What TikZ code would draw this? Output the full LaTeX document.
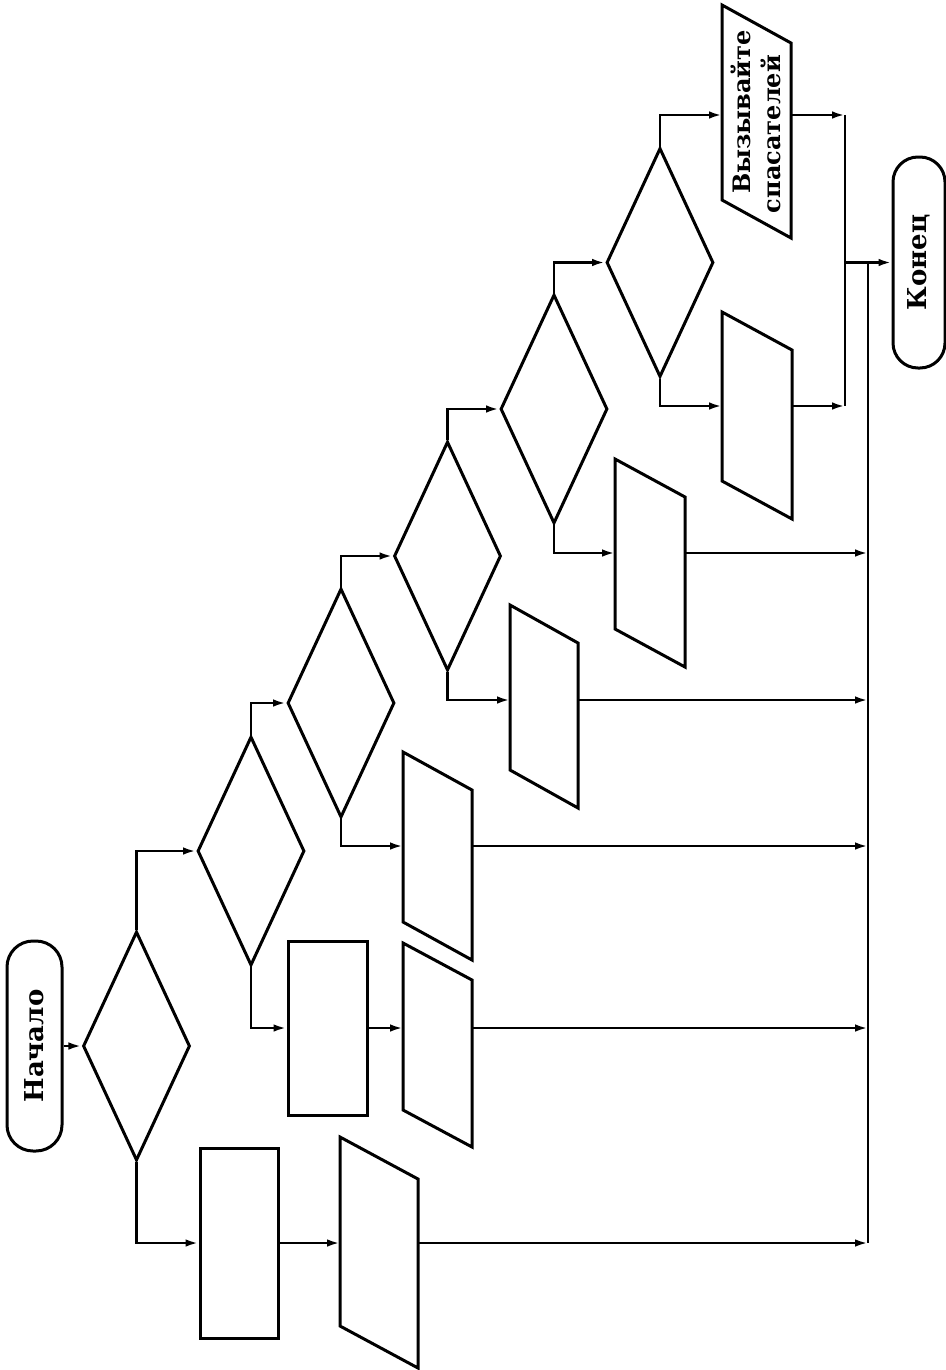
\documentclass[tikz,border=0pt]{standalone}
\usepackage{fontspec}
\setmainfont{DejaVu Serif}
\usetikzlibrary{shapes.geometric,arrows.meta}
\tikzset{
  shp/.style={line width=1.5pt, line join=miter},
  ln/.style={line width=1.3pt},
  arr/.style={line width=1.3pt, -{Latex[length=6.5pt,width=3.8pt]}},
  dia/.style={shp, draw, shape=diamond, inner sep=0pt, minimum width=53.5pt, minimum height=114.5pt},
  box/.style={shp, draw, rectangle, inner sep=0pt},
  pbox/.style={rectangle, draw=none, inner sep=0pt, outer sep=0pt},
  term/.style={shp, draw, rectangle, rotate=90, inner sep=0pt, font=\fontsize{13}{15}\selectfont\bfseries},
  lbl/.style={rotate=90, inner sep=0pt, font=\fontsize{12}{15}\selectfont\bfseries}
}
\newcommand\parashape[2]{\draw[shp] (#1.north west) -- ([yshift=-#2]#1.north east) -- (#1.south east) -- ([yshift=#2]#1.south west) -- cycle;}
\begin{document}
\begin{tikzpicture}[x=0.5pt,y=-0.5pt]
\useasboundingbox (0,0) rectangle (946,1370);
% terminals
\node[term, minimum width=105pt, minimum height=27.5pt, rounded corners=13pt] (S) at (34.5,1046) {Начало};
\node[term, minimum width=105.5pt, minimum height=26pt, rounded corners=12.5pt] (E) at (919,262.5) {Конец};
% decisions
\node[dia] (D1) at (136.5,1046) {};
\node[dia] (D2) at (251,851) {};
\node[dia] (D3) at (341,703) {};
\node[dia] (D4) at (447.5,556) {};
\node[dia] (D5) at (554,409) {};
\node[dia] (D6) at (660,262.5) {};
% processes
\node[box, minimum width=39pt, minimum height=95pt] (R1) at (239,1243) {};
\node[box, minimum width=39.5pt, minimum height=87pt] (R2) at (327.5,1028) {};
% input/output parallelograms
\node[pbox, minimum width=39pt, minimum height=115.5pt] (P1) at (379,1252.5) {};
\node[pbox, minimum width=34.5pt, minimum height=102pt] (P2) at (437.5,1045) {};
\node[pbox, minimum width=34.5pt, minimum height=104pt] (P3) at (437.5,856) {};
\node[pbox, minimum width=34pt, minimum height=101.5pt] (P4) at (544,706.5) {};
\node[pbox, minimum width=35pt, minimum height=104pt] (P5) at (650,563) {};
\node[pbox, minimum width=35pt, minimum height=103.5pt] (P6) at (757,415.5) {};
\node[pbox, minimum width=34.5pt, minimum height=116.5pt] (P7) at (756.5,121.5) {};
\parashape{P1}{21pt}
\parashape{P2}{18.5pt}
\parashape{P3}{19pt}
\parashape{P4}{19pt}
\parashape{P5}{19pt}
\parashape{P6}{19pt}
\parashape{P7}{19pt}
\node[lbl] (T7a) at (741,112) {Вызывайте};
\node[lbl] (T7b) at (771,134) {спасателей};
% helper coordinates
\coordinate (y3) at (0,846);
\coordinate (y4) at (0,700);
\coordinate (y5) at (0,553);
\coordinate (y6) at (0,406);
\coordinate (y7) at (0,115);
\coordinate (J) at (845,262.5);
\coordinate (C) at (868,262.5);
% connectors
\draw[arr] (S) -- (D1);
\draw[arr] (D1.north) |- (D2.west);
\draw[arr] (D2.north) |- (D3.west);
\draw[arr] (D3.north) |- (D4.west);
\draw[arr] (D4.north) |- (D5.west);
\draw[arr] (D5.north) |- (D6.west);
\draw[arr] (D6.north) |- (y7 -| P7.west);
\draw[arr] (D1.south) |- (R1.west);
\draw[arr] (R1.east) -- (R1.east -| P1.west);
\draw[arr] (D2.south) |- (R2.west);
\draw[arr] (R2.east) -- (R2.east -| P2.west);
\draw[arr] (D3.south) |- (y3 -| P3.west);
\draw[arr] (D4.south) |- (y4 -| P4.west);
\draw[arr] (D5.south) |- (y5 -| P5.west);
\draw[arr] (D6.south) |- (y6 -| P6.west);
% outputs to collectors
\draw[arr] (R1.east -| P1.east) -- (R1.east -| C);
\draw[arr] (R2.east -| P2.east) -- (R2.east -| C);
\draw[arr] (y3 -| P3.east) -- (y3 -| C);
\draw[arr] (y4 -| P4.east) -- (y4 -| C);
\draw[arr] (y5 -| P5.east) -- (y5 -| C);
\draw[arr] (y6 -| P6.east) -- (y6 -| J);
\draw[arr] (y7 -| P7.east) -- (y7 -| J);
\draw[ln] (y7 -| J) -- (y6 -| J);
\draw[ln] (C) -- (C |- R1.east);
\draw[arr] (J) -- (E);
\end{tikzpicture}
\end{document}
